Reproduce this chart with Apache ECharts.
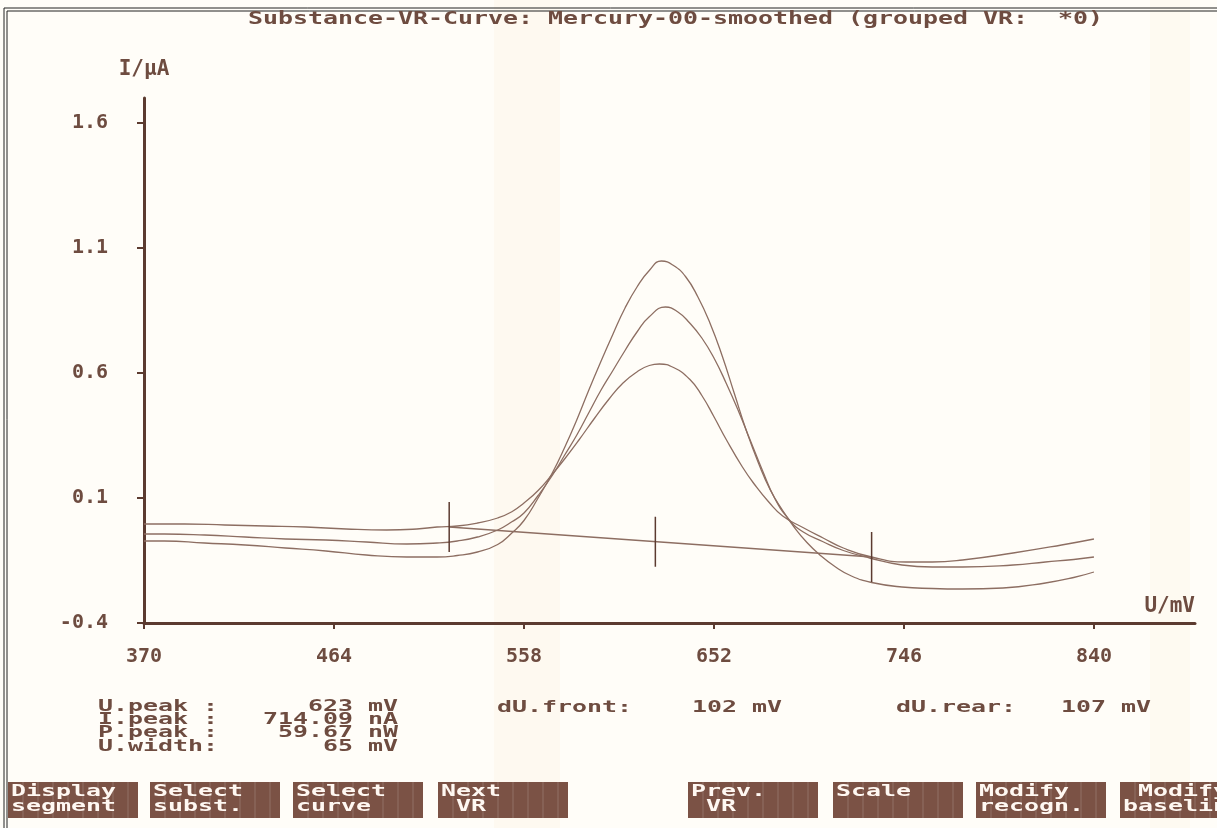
<!DOCTYPE html>
<html>
<head>
<meta charset="utf-8">
<title>Substance-VR-Curve</title>
<script src="https://cdn.jsdelivr.net/npm/echarts@6/dist/echarts.min.js"></script>
<style>
    html, body { margin: 0; padding: 0; background: #fffdf8; }
    #vrChart { width: 1217px; height: 828px; }
</style>
</head>
<body>
<div id="vrChart"></div>
<script>
//---------------------------- data --------------------------------------

// axis ticks
const uTicks = [370, 464, 558, 652, 746, 840];
const iTicks = [-0.4, 0.1, 0.6, 1.1, 1.6];

// curve with the highest peak (lowest baseline)
const c1U = [370, 380, 400, 420, 440, 460, 480, 500, 515, 525, 535, 545, 552, 558, 565, 572, 578, 584, 590, 596, 602, 608, 614, 620, 626, 632, 638, 644, 650, 656, 662, 668, 674, 680, 686, 692, 698, 704, 712, 720, 730, 745, 760, 775, 795, 816, 830, 840];
const c1I = [-0.072, -0.072, -0.080, -0.088, -0.100, -0.112, -0.128, -0.136, -0.136, -0.130, -0.116, -0.086, -0.040, 0.010, 0.100, 0.200, 0.300, 0.410, 0.530, 0.645, 0.755, 0.860, 0.945, 1.010, 1.048, 1.030, 0.985, 0.905, 0.800, 0.670, 0.520, 0.370, 0.240, 0.130, 0.050, -0.020, -0.078, -0.125, -0.175, -0.212, -0.238, -0.256, -0.262, -0.264, -0.260, -0.240, -0.218, -0.196];

// middle curve
const c2U = [370, 380, 400, 420, 440, 460, 480, 500, 515, 525, 535, 545, 552, 558, 565, 572, 578, 584, 590, 596, 602, 608, 614, 620, 628, 634, 640, 646, 652, 658, 664, 670, 676, 682, 689, 696, 706, 716, 729, 745, 760, 775, 800, 816, 830, 840];
const c2I = [-0.044, -0.044, -0.048, -0.056, -0.064, -0.068, -0.076, -0.084, -0.080, -0.072, -0.056, -0.028, 0.005, 0.040, 0.110, 0.190, 0.270, 0.350, 0.440, 0.530, 0.610, 0.690, 0.765, 0.825, 0.864, 0.845, 0.800, 0.740, 0.660, 0.560, 0.450, 0.330, 0.210, 0.100, 0.015, -0.035, -0.075, -0.110, -0.140, -0.168, -0.176, -0.176, -0.168, -0.156, -0.146, -0.136];

// curve with the smallest peak (highest baseline)
const c3U = [370, 390, 410, 430, 450, 470, 490, 505, 515, 525, 535, 545, 552, 558, 565, 572, 578, 585, 593, 600, 607, 614, 620, 625, 632, 640, 646, 652, 658, 666, 672, 679, 686, 696, 706, 716, 730, 747, 760, 775, 800, 824, 840];
const c3I = [-0.004, -0.004, -0.008, -0.012, -0.016, -0.024, -0.028, -0.024, -0.016, -0.012, 0.000, 0.020, 0.045, 0.080, 0.130, 0.195, 0.255, 0.330, 0.420, 0.495, 0.560, 0.605, 0.630, 0.636, 0.622, 0.575, 0.510, 0.425, 0.335, 0.225, 0.155, 0.085, 0.028, -0.018, -0.060, -0.100, -0.136, -0.156, -0.156, -0.148, -0.120, -0.088, -0.064];

// baseline and peak markers (front / peak / rear)
const baseU = [521, 730];
const baseI = [-0.016, -0.136];
const markU = [521, 623, 730];
const markI = [-0.016, -0.075, -0.136];

// result block
const infoLabels = ['U.peak :', 'I.peak :', 'P.peak :', 'U.width:'];
const infoValues = ['623', '714.09', '59.67', '65'];
const infoUnits = ['mV', 'nA', 'nW', 'mV'];
const dUFront = '102';
const dURear = '107';

// function keys
const keyTop = ['Display', 'Select', 'Select', 'Next', 'Prev.', 'Scale', 'Modify', ' Modify'];
const keyBottom = ['segment', 'subst.', 'curve', ' VR', ' VR', '', 'recogn.', 'baseline'];

//---------------------------- chart --------------------------------------

const INK = '#6e4c40';
const AXIS = '#5c3b30';
const CURVE = '#8d6e62';
const KEY_BG = '#7b5245';
const MARK_HALF = 0.1;

const chart = echarts.init(document.getElementById('vrChart'));

// DOS-like text: monospace glyphs stretched to ~15px cells
function dosText(str, x, y, color, size) {
    size = size || 17;
    return {
        type: 'text',
        x: x,
        y: y,
        scaleX: 15 / (0.602 * size),
        silent: true,
        style: {
            text: str,
            fill: color || INK,
            font: 'bold ' + size + 'px "DejaVu Sans Mono"',
            textAlign: 'left',
            textVerticalAlign: 'middle'
        }
    };
}

function pairs(us, vs) {
    return us.map((u, i) => [u, vs[i]]);
}

const graphics = [];

// faint paper band
graphics.push({ type: 'rect', shape: { x: 494, y: 0, width: 66, height: 828 }, style: { fill: 'rgba(246,228,190,0.14)' }, z: -10, silent: true });
graphics.push({ type: 'rect', shape: { x: 1150, y: 0, width: 40, height: 828 }, style: { fill: 'rgba(246,228,190,0.10)' }, z: -10, silent: true });

// double frame
graphics.push({ type: 'polyline', shape: { points: [[4, 828], [4, 8], [1217, 8]] }, style: { stroke: '#222', lineWidth: 1, fill: null }, silent: true });
graphics.push({ type: 'polyline', shape: { points: [[7, 828], [7, 11], [1217, 11]] }, style: { stroke: '#222', lineWidth: 1, fill: null }, silent: true });

// title
graphics.push(dosText('Substance-VR-Curve: Mercury-00-smoothed (grouped VR:  *0)', 248, 20));

// result block
infoLabels.forEach((lab, i) => {
    const row = lab + infoValues[i].padStart(9, ' ') + ' ' + infoUnits[i];
    graphics.push(dosText(row, 98, 707 + i * 13.3, INK, 15));
});
graphics.push(dosText('dU.front:    ' + dUFront + ' mV', 497, 708, INK, 15));
graphics.push(dosText('dU.rear:   ' + dURear + ' mV', 896, 708, INK, 15));

// function keys
const keyX = [8, 150, 293, 438, 688, 833, 976, 1120];
keyX.forEach((kx, i) => {
    graphics.push({ type: 'rect', shape: { x: kx, y: 782, width: 130, height: 36 }, style: { fill: KEY_BG }, silent: true });
    for (let c = 1; c < 9; c++) {
        graphics.push({ type: 'line', shape: { x1: kx + c * 15, y1: 782, x2: kx + c * 15, y2: 818 }, style: { stroke: 'rgba(255,255,255,0.18)', lineWidth: 1 }, silent: true });
    }
    graphics.push(dosText(keyTop[i], kx + 3, 792, '#fff8f2', 16));
    graphics.push(dosText(keyBottom[i], kx + 3, 807, '#fff8f2', 16));
});

const curveStyle = { color: CURVE, width: 1.3 };

const series = [
    { name: 'c1', type: 'line', data: pairs(c1U, c1I), smooth: 0.5, showSymbol: false, lineStyle: curveStyle, itemStyle: { color: CURVE }, z: 3 },
    { name: 'c2', type: 'line', data: pairs(c2U, c2I), smooth: 0.5, showSymbol: false, lineStyle: curveStyle, itemStyle: { color: CURVE }, z: 3 },
    { name: 'c3', type: 'line', data: pairs(c3U, c3I), smooth: 0.5, showSymbol: false, lineStyle: curveStyle, itemStyle: { color: CURVE }, z: 3 },
    { name: 'baseline', type: 'line', data: pairs(baseU, baseI), showSymbol: false, lineStyle: curveStyle, itemStyle: { color: CURVE }, z: 3 }
];
// vertical marker at front, peak and rear
markU.forEach((u, i) => {
    series.push({
        name: 'mark' + i,
        type: 'line',
        data: [[u, markI[i] - MARK_HALF], [u, markI[i] + MARK_HALF]],
        showSymbol: false,
        lineStyle: { color: AXIS, width: 1.5 },
        itemStyle: { color: AXIS },
        z: 4
    });
});

const labelFont = { color: INK, fontSize: 20, fontWeight: 'bold', fontFamily: 'DejaVu Sans Mono' };

const option = {
    backgroundColor: '#fffdf8',
    animation: false,
    textStyle: { fontFamily: 'DejaVu Sans Mono', color: INK },
    grid: { left: 144, right: 22, top: 98, bottom: 205, containLabel: false, outerBoundsMode: 'none' },
    xAxis: {
        type: 'value',
        min: 370,
        max: 890,
        name: 'U/mV',
        nameLocation: 'end',
        nameGap: 0,
        nameTextStyle: Object.assign({}, labelFont, { fontSize: 21, align: 'right', verticalAlign: 'bottom', padding: [0, 0, 6, 0] }),
        axisLine: { onZero: false, lineStyle: { color: AXIS, width: 3 } },
        axisTick: { customValues: uTicks, length: 6, lineStyle: { color: AXIS, width: 2 } },
        axisLabel: Object.assign({ customValues: uTicks, margin: 24 }, labelFont),
        splitLine: { show: false }
    },
    yAxis: {
        type: 'value',
        min: -0.4,
        max: 1.7,
        name: 'I/µA',
        nameLocation: 'end',
        nameGap: 18,
        nameTextStyle: Object.assign({}, labelFont, { fontSize: 21 }),
        axisLine: { show: true, onZero: false, lineStyle: { color: AXIS, width: 3 } },
        axisTick: { show: true, customValues: iTicks, length: 7, lineStyle: { color: AXIS, width: 2 } },
        axisLabel: Object.assign({ customValues: iTicks, margin: 36, formatter: v => v.toFixed(1) }, labelFont),
        splitLine: { show: false }
    },
    graphic: { elements: graphics },
    series: series
};

chart.setOption(option);
</script>
</body>
</html>
